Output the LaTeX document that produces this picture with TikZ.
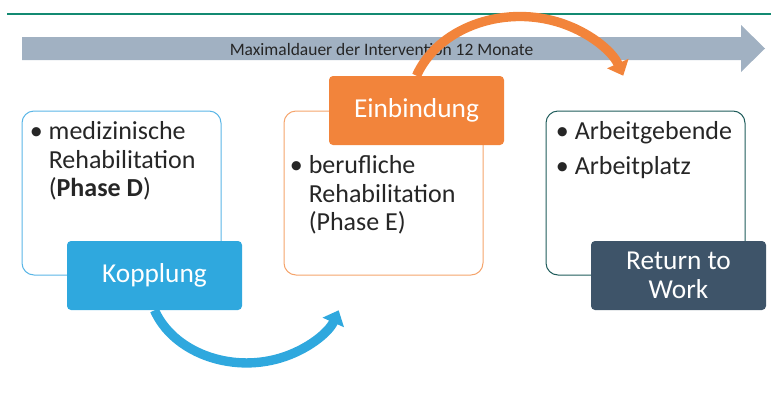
\documentclass[tikz,border=0pt]{standalone}
\usepackage{fontspec}
\setmainfont{Carlito}
\usetikzlibrary{positioning,arrows.meta}

\definecolor{lineGreen}{HTML}{138A72}
\definecolor{barGray}{HTML}{A1B1C2}
\definecolor{koppBlue}{HTML}{2FA8DE}
\definecolor{mediBlue}{HTML}{5AB6E6}
\definecolor{einbOrange}{HTML}{F2843B}
\definecolor{berufOrange}{HTML}{F5A46C}
\definecolor{rtwSlate}{HTML}{3E5469}
\definecolor{rtwTeal}{HTML}{1F5C5B}
\definecolor{textDark}{HTML}{262626}

\newcommand{\bulletmark}{\makebox[14.25pt][l]{\textbullet}}

\tikzset{
  phase/.style={draw, rounded corners=9pt, line width=0.75pt, minimum width=149.25pt, minimum height=123pt},
  tag/.style={rounded corners=3pt, minimum width=131.25pt, minimum height=51.75pt, text=white, align=center, font=\fontsize{20.5}{22}\selectfont},
  items/.style={anchor=base west, text=textDark, inner sep=0pt},
  swing/.style={line width=7pt, -{Triangle[length=10pt,width=17pt]}}
}

\begin{document}
\begin{tikzpicture}[x=0.75pt, y=0.75pt, every node/.style={font=\fontsize{19.5}{21.5}\selectfont}, node distance=46.5pt]
\useasboundingbox (0,0) rectangle (771,-397);

\fill[barGray] (22,-37) -- (741,-37) -- (741,-25) -- (765,-48.5) -- (741,-72) -- (741,-60) -- (22,-60) -- cycle;
\node[text=textDark, font=\fontsize{13.1}{15}\selectfont](dauer) at (381.5,-49){Maximaldauer der Intervention 12 Monate};
\draw[lineGreen, line width=1.5pt] (7,-14) -- (771,-14);

\node[phase, draw=mediBlue](medi) at (121.5,-193){};
\node[phase, draw=berufOrange](beruf)[right=of medi]{};
\node[phase, draw=rtwTeal](arbeit)[right=of beruf]{};

\node[items] at ([shift={(8,-29)}]medi.north west){\begin{tabular}[t]{@{}l@{}}\bulletmark medizinische\\\hspace*{14.25pt}Rehabilitation\\\hspace*{14.25pt}(\textbf{Phase D})\end{tabular}};
\node[items] at ([shift={(6,-63)}]beruf.north west){\begin{tabular}[t]{@{}l@{}}\bulletmark berufliche\\\hspace*{14.25pt}Rehabilitation\\\hspace*{14.25pt}(Phase E)\end{tabular}};
\node[items] at ([shift={(10,-29)}]arbeit.north west){\begin{tabular}[t]{@{}l@{}}\bulletmark Arbeitgebende\\[4.75pt]\bulletmark Arbeitplatz\end{tabular}};

\node[tag, fill=koppBlue](kopp) at ([xshift=24.75pt]medi.south){Kopplung};
\node[tag, fill=einbOrange](einb) at ([xshift=24.75pt]beruf.north){Einbindung};
\node[tag, fill=rtwSlate](rtw) at ([xshift=24.75pt]arbeit.south){Return to\\Work};

\draw[swing, koppBlue] (kopp.south) arc[start angle=200, end angle=340, x radius=98, y radius=80];
\draw[swing, einbOrange] (einb.north) arc[start angle=160, end angle=20, x radius=110, y radius=90];
\end{tikzpicture}
\end{document}
